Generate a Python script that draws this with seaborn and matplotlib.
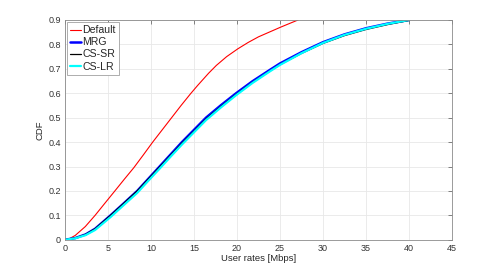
import numpy as np
import pandas as pd
import matplotlib
matplotlib.use("Agg")
import matplotlib.pyplot as plt
import seaborn as sns

# Data
x_default = [0, 0.5, 1.2, 2.36, 3.5, 4.6, 5.8, 6.9, 8.0, 9.1, 10.2, 11.3, 12.4, 13.5, 14.6, 15.4,
             16.7, 17.6, 18.8, 20.1, 21.3, 22.5, 25.1, 26.2, 27.1]
y_default = [0, 0.004, 0.018, 0.054, 0.10, 0.148, 0.20, 0.248, 0.295, 0.347, 0.40, 0.45, 0.50, 0.55, 0.598, 0.631,
             0.682, 0.714, 0.75, 0.782, 0.808, 0.831, 0.871, 0.887, 0.90]

x_rate = [0, 1.2, 2.4, 3.5, 5.3, 6.8, 8.4, 9.7, 11.0, 12.3, 13.6, 15.0, 16.4, 18.1, 19.9, 21.8, 23.8, 25.0,
          27.5, 30.0, 32.5, 35.0, 37.5, 40.0]
y_mrg = [0, 0.007, 0.022, 0.045, 0.10, 0.148, 0.20, 0.25, 0.30, 0.35, 0.40, 0.45, 0.50, 0.55, 0.60, 0.649, 0.695, 0.722,
         0.768, 0.809, 0.841, 0.866, 0.885, 0.90]
y_cssr = [0, 0.007, 0.022, 0.045, 0.10, 0.148, 0.20, 0.249, 0.298, 0.347, 0.396, 0.445, 0.495, 0.545, 0.595, 0.644, 0.690, 0.717,
          0.763, 0.804, 0.836, 0.861, 0.881, 0.898]
y_cslr = [0, 0.006, 0.019, 0.040, 0.093, 0.141, 0.192, 0.242, 0.291, 0.341, 0.39, 0.44, 0.49, 0.541, 0.592, 0.642, 0.689, 0.716,
          0.764, 0.806, 0.839, 0.864, 0.884, 0.90]

series = ["Default", "MRG", "CS-SR", "CS-LR"]
colors = ["#ff0000", "#0000ff", "#000000", "#00ffff"]
widths = [0.8, 1.8, 0.9, 1.6]

df = pd.concat([
    pd.DataFrame({"x": x_default, "y": y_default, "s": "Default"}),
    pd.DataFrame({"x": x_rate, "y": y_mrg, "s": "MRG"}),
    pd.DataFrame({"x": x_rate, "y": y_cssr, "s": "CS-SR"}),
    pd.DataFrame({"x": x_rate, "y": y_cslr, "s": "CS-LR"}),
])

sns.set_style("white")
plt.rcParams["font.family"] = ["Liberation Sans", "DejaVu Sans"]

fig, ax = plt.subplots(figsize=(5, 2.7), dpi=100)
fig.subplots_adjust(left=0.13, right=0.904, top=0.926, bottom=0.112)

for s, c, w in zip(series, colors, widths):
    sns.lineplot(data=df[df.s == s], x="x", y="y", color=c, lw=w, ax=ax, label=s)

ax.set_xlim(0, 45)
ax.set_ylim(0, 0.9)
ax.set_xticks(np.arange(0, 46, 5))
ax.set_yticks(np.round(np.arange(0, 0.91, 0.1), 1))
ax.set_yticklabels(["0"] + [f"{v:.1f}" for v in np.arange(0.1, 0.91, 0.1)])
ax.grid(True, color="#e8e8e8", lw=0.6)
ax.tick_params(direction="in", length=3, width=0.6, colors="#6e6e6e", labelsize=6.5,
               top=True, right=True, labelcolor="#333333", pad=3)
for sp in ax.spines.values():
    sp.set_color("#8a8a8a")
    sp.set_linewidth(0.6)
ax.set_xlabel("User rates [Mbps]", fontsize=6.8, color="#262626", labelpad=1)
ax.set_ylabel("CDF", fontsize=6.8, color="#262626", labelpad=3)

leg = ax.legend(loc="upper left", fontsize=7.6, handlelength=1.0, handletextpad=0.15,
                borderpad=0.3, labelspacing=0.2, borderaxespad=0.2, fancybox=False, framealpha=1)
leg.get_frame().set_edgecolor("#a0a0a0")
leg.get_frame().set_linewidth(0.6)

fig.savefig("out.png", dpi=100)
